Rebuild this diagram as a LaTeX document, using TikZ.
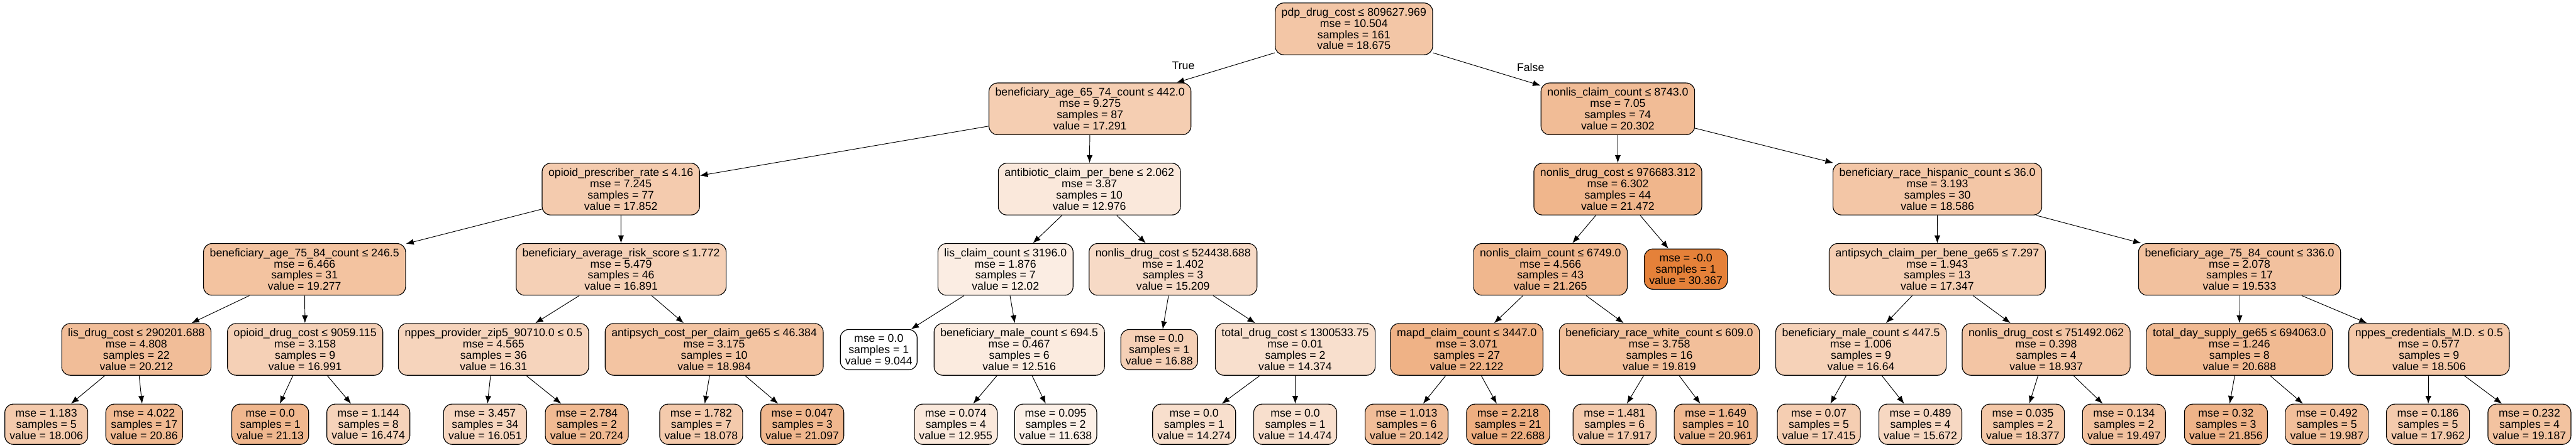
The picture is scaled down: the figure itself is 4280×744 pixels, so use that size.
\documentclass[tikz,border=0pt]{standalone}
\usepackage{fontspec}
\setmainfont{Liberation Sans}
\usetikzlibrary{arrows.meta}
\definecolor{TreeOrange}{HTML}{E58139}
\tikzset{>={Latex[length=13pt,width=10pt]}}
\newcommand{\treefont}{\fontsize{18.5}{18.6}\selectfont}

\begin{document}
\begin{tikzpicture}[x=1pt,y=-1pt,
    decision/.style={draw,line width=1.2pt,rounded corners=14pt,align=center,inner xsep=10.5pt,inner ysep=2pt,minimum height=86pt,font=\treefont},
    leaf/.style={decision,inner xsep=8pt,minimum height=67pt},
    edgelbl/.style={font=\treefont,inner sep=0pt}]
    \useasboundingbox (0,0) rectangle (4280,744);
    % depth 0
    \node[decision,fill=TreeOrange!45] at (2249.5,48) (root) {pdp\_drug\_cost ≤ 809627.969\\mse = 10.504\\samples = 161\\value = 18.675};
    % depth 1
    \node[decision,fill=TreeOrange!39] at (1811,181) (ageA) {beneficiary\_age\_65\_74\_count ≤ 442.0\\mse = 9.275\\samples = 87\\value = 17.291};
    \node[decision,fill=TreeOrange!53] at (2688,181) (nlclaimA) {nonlis\_claim\_count ≤ 8743.0\\mse = 7.05\\samples = 74\\value = 20.302};
    % depth 2
    \node[decision,fill=TreeOrange!41] at (1031.5,314.5) (opioidrate) {opioid\_prescriber\_rate ≤ 4.16\\mse = 7.245\\samples = 77\\value = 17.852};
    \node[decision,fill=TreeOrange!18] at (1810,314.5) (antibiotic) {antibiotic\_claim\_per\_bene ≤ 2.062\\mse = 3.87\\samples = 10\\value = 12.976};
    \node[decision,fill=TreeOrange!58] at (2688,314.5) (nldrugA) {nonlis\_drug\_cost ≤ 976683.312\\mse = 6.302\\samples = 44\\value = 21.472};
    \node[decision,fill=TreeOrange!45] at (3219,314.5) (hispanic) {beneficiary\_race\_hispanic\_count ≤ 36.0\\mse = 3.193\\samples = 30\\value = 18.586};
    % depth 3
    \node[decision,fill=TreeOrange!48] at (506,448) (ageB) {beneficiary\_age\_75\_84\_count ≤ 246.5\\mse = 6.466\\samples = 31\\value = 19.277};
    \node[decision,fill=TreeOrange!37] at (1032,448) (riskscore) {beneficiary\_average\_risk\_score ≤ 1.772\\mse = 5.479\\samples = 46\\value = 16.891};
    \node[decision,fill=TreeOrange!14] at (1670.6,448) (lisclaim) {lis\_claim\_count ≤ 3196.0\\mse = 1.876\\samples = 7\\value = 12.02};
    \node[decision,fill=TreeOrange!29] at (1949,448) (nldrugB) {nonlis\_drug\_cost ≤ 524438.688\\mse = 1.402\\samples = 3\\value = 15.209};
    \node[decision,fill=TreeOrange!57] at (2576,448) (nlclaimB) {nonlis\_claim\_count ≤ 6749.0\\mse = 4.566\\samples = 43\\value = 21.265};
    \node[leaf,fill=TreeOrange!100] at (2801,447.5) (leafM) {mse = -0.0\\samples = 1\\value = 30.367};
    \node[decision,fill=TreeOrange!39] at (3218.7,448) (antipsychclaim) {antipsych\_claim\_per\_bene\_ge65 ≤ 7.297\\mse = 1.943\\samples = 13\\value = 17.347};
    \node[decision,fill=TreeOrange!49] at (3721,448) (ageC) {beneficiary\_age\_75\_84\_count ≤ 336.0\\mse = 2.078\\samples = 17\\value = 19.533};
    % depth 4
    \node[decision,fill=TreeOrange!52] at (226.6,581) (lisdrug) {lis\_drug\_cost ≤ 290201.688\\mse = 4.808\\samples = 22\\value = 20.212};
    \node[decision,fill=TreeOrange!37] at (507,581) (opioiddrug) {opioid\_drug\_cost ≤ 9059.115\\mse = 3.158\\samples = 9\\value = 16.991};
    \node[decision,fill=TreeOrange!34] at (820,581) (zipfive) {nppes\_provider\_zip5\_90710.0 ≤ 0.5\\mse = 4.565\\samples = 36\\value = 16.31};
    \node[decision,fill=TreeOrange!47] at (1186.6,581) (antipsychcost) {antipsych\_cost\_per\_claim\_ge65 ≤ 46.384\\mse = 3.175\\samples = 10\\value = 18.984};
    \node[leaf,fill=TreeOrange!0] at (1460,581.5) (leafA) {mse = 0.0\\samples = 1\\value = 9.044};
    \node[decision,fill=TreeOrange!16] at (1693.5,581) (maleA) {beneficiary\_male\_count ≤ 694.5\\mse = 0.467\\samples = 6\\value = 12.516};
    \node[leaf,fill=TreeOrange!37] at (1926,581.5) (leafB) {mse = 0.0\\samples = 1\\value = 16.88};
    \node[decision,fill=TreeOrange!25] at (2152,581) (totaldrug) {total\_drug\_cost ≤ 1300533.75\\mse = 0.01\\samples = 2\\value = 14.374};
    \node[decision,fill=TreeOrange!61] at (2437,581) (mapd) {mapd\_claim\_count ≤ 3447.0\\mse = 3.071\\samples = 27\\value = 22.122};
    \node[decision,fill=TreeOrange!51] at (2757,581) (white) {beneficiary\_race\_white\_count ≤ 609.0\\mse = 3.758\\samples = 16\\value = 19.819};
    \node[decision,fill=TreeOrange!36] at (3092,581) (maleB) {beneficiary\_male\_count ≤ 447.5\\mse = 1.006\\samples = 9\\value = 16.64};
    \node[decision,fill=TreeOrange!46] at (3399.7,581) (nldrugC) {nonlis\_drug\_cost ≤ 751492.062\\mse = 0.398\\samples = 4\\value = 18.937};
    \node[decision,fill=TreeOrange!55] at (3720.8,581) (daysupply) {total\_day\_supply\_ge65 ≤ 694063.0\\mse = 1.246\\samples = 8\\value = 20.688};
    \node[decision,fill=TreeOrange!44] at (4035.8,581) (credentials) {nppes\_credentials\_M.D. ≤ 0.5\\mse = 0.577\\samples = 9\\value = 18.506};
    % depth 5
    \node[leaf,fill=TreeOrange!42] at (77,705.5) (l1) {mse = 1.183\\samples = 5\\value = 18.006};
    \node[leaf,fill=TreeOrange!55] at (239.6,705.5) (l2) {mse = 4.022\\samples = 17\\value = 20.86};
    \node[leaf,fill=TreeOrange!57] at (449,705.5) (l3) {mse = 0.0\\samples = 1\\value = 21.13};
    \node[leaf,fill=TreeOrange!35] at (612,705.5) (l4) {mse = 1.144\\samples = 8\\value = 16.474};
    \node[leaf,fill=TreeOrange!33] at (806,705.5) (l5) {mse = 3.457\\samples = 34\\value = 16.051};
    \node[leaf,fill=TreeOrange!55] at (975,705.5) (l6) {mse = 2.784\\samples = 2\\value = 20.724};
    \node[leaf,fill=TreeOrange!42] at (1165,705.5) (l7) {mse = 1.782\\samples = 7\\value = 18.078};
    \node[leaf,fill=TreeOrange!57] at (1333,705.5) (l8) {mse = 0.047\\samples = 3\\value = 21.097};
    \node[leaf,fill=TreeOrange!18] at (1588,705.5) (l9) {mse = 0.074\\samples = 4\\value = 12.955};
    \node[leaf,fill=TreeOrange!12] at (1754,705.5) (l10) {mse = 0.095\\samples = 2\\value = 11.638};
    \node[leaf,fill=TreeOrange!25] at (1984,705.5) (l11) {mse = 0.0\\samples = 1\\value = 14.274};
    \node[leaf,fill=TreeOrange!25] at (2152,705.5) (l12) {mse = 0.0\\samples = 1\\value = 14.474};
    \node[leaf,fill=TreeOrange!52] at (2337,705.5) (l13) {mse = 1.013\\samples = 6\\value = 20.142};
    \node[leaf,fill=TreeOrange!64] at (2505.6,705.5) (l14) {mse = 2.218\\samples = 21\\value = 22.688};
    \node[leaf,fill=TreeOrange!42] at (2682.6,705.5) (l15) {mse = 1.481\\samples = 6\\value = 17.917};
    \node[leaf,fill=TreeOrange!56] at (2850.6,705.5) (l16) {mse = 1.649\\samples = 10\\value = 20.961};
    \node[leaf,fill=TreeOrange!39] at (3022,705.5) (l17) {mse = 0.07\\samples = 5\\value = 17.415};
    \node[leaf,fill=TreeOrange!31] at (3190.7,705.5) (l18) {mse = 0.489\\samples = 4\\value = 15.672};
    \node[leaf,fill=TreeOrange!44] at (3361,705.5) (l19) {mse = 0.035\\samples = 2\\value = 18.377};
    \node[leaf,fill=TreeOrange!49] at (3529,705.5) (l20) {mse = 0.134\\samples = 2\\value = 19.497};
    \node[leaf,fill=TreeOrange!60] at (3698.4,705.5) (l21) {mse = 0.32\\samples = 3\\value = 21.856};
    \node[leaf,fill=TreeOrange!51] at (3866,705.5) (l22) {mse = 0.492\\samples = 5\\value = 19.987};
    \node[leaf,fill=TreeOrange!42] at (4034,705.5) (l23) {mse = 0.186\\samples = 5\\value = 17.962};
    \node[leaf,fill=TreeOrange!48] at (4202.6,705.5) (l24) {mse = 0.232\\samples = 4\\value = 19.187};
    % branch labels
    \node[edgelbl] at (1966,109) (truelbl) {True};
    \node[edgelbl] at (2543,112) (falselbl) {False};
    % edges
    \begin{scope}[->,line width=1pt]
        \draw (root) -- (ageA);
        \draw (root) -- (nlclaimA);
        \draw (ageA) -- (opioidrate);
        \draw (ageA) -- (antibiotic);
        \draw (nlclaimA) -- (nldrugA);
        \draw (nlclaimA) -- (hispanic);
        \draw (opioidrate) -- (ageB);
        \draw (opioidrate) -- (riskscore);
        \draw (antibiotic) -- (lisclaim);
        \draw (antibiotic) -- (nldrugB);
        \draw (nldrugA) -- (nlclaimB);
        \draw (nldrugA) -- (leafM);
        \draw (hispanic) -- (antipsychclaim);
        \draw (hispanic) -- (ageC);
        \draw (ageB) -- (lisdrug);
        \draw (ageB) -- (opioiddrug);
        \draw (riskscore) -- (zipfive);
        \draw (riskscore) -- (antipsychcost);
        \draw (lisclaim) -- (leafA);
        \draw (lisclaim) -- (maleA);
        \draw (nldrugB) -- (leafB);
        \draw (nldrugB) -- (totaldrug);
        \draw (nlclaimB) -- (mapd);
        \draw (nlclaimB) -- (white);
        \draw (antipsychclaim) -- (maleB);
        \draw (antipsychclaim) -- (nldrugC);
        \draw (ageC) -- (daysupply);
        \draw (ageC) -- (credentials);
        \draw (lisdrug) -- (l1);
        \draw (lisdrug) -- (l2);
        \draw (opioiddrug) -- (l3);
        \draw (opioiddrug) -- (l4);
        \draw (zipfive) -- (l5);
        \draw (zipfive) -- (l6);
        \draw (antipsychcost) -- (l7);
        \draw (antipsychcost) -- (l8);
        \draw (maleA) -- (l9);
        \draw (maleA) -- (l10);
        \draw (totaldrug) -- (l11);
        \draw (totaldrug) -- (l12);
        \draw (mapd) -- (l13);
        \draw (mapd) -- (l14);
        \draw (white) -- (l15);
        \draw (white) -- (l16);
        \draw (maleB) -- (l17);
        \draw (maleB) -- (l18);
        \draw (nldrugC) -- (l19);
        \draw (nldrugC) -- (l20);
        \draw (daysupply) -- (l21);
        \draw (daysupply) -- (l22);
        \draw (credentials) -- (l23);
        \draw (credentials) -- (l24);
    \end{scope}
\end{tikzpicture}
\end{document}
